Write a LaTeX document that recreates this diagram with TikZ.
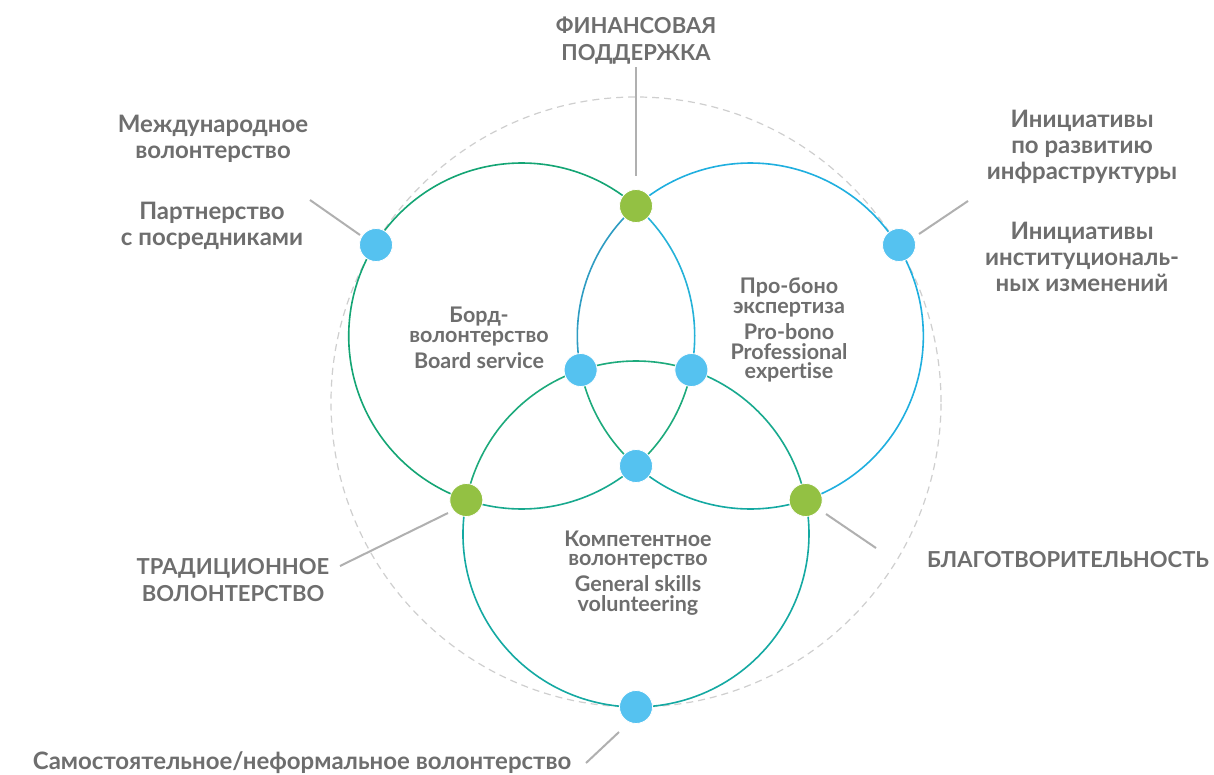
\documentclass[tikz,border=0pt]{standalone}
\usepackage{fontspec}
\setmainfont{Lato}[Ligatures=NoCommon]
\definecolor{cgreen}{HTML}{14A574}
\definecolor{cblue}{HTML}{1FAFDF}
\definecolor{cteal}{HTML}{14A9A2}
\definecolor{ccyan}{HTML}{25B2D8}
\definecolor{cdblue}{HTML}{2E9CC2}
\definecolor{ctri}{HTML}{1DAA7C}
\definecolor{ctg}{HTML}{18A98E}
\definecolor{dotblue}{HTML}{55C2F0}
\definecolor{dotgreen}{HTML}{93C143}
\definecolor{txt}{HTML}{6E6E6E}
\definecolor{lead}{HTML}{B0B0B0}
\definecolor{dashc}{HTML}{CFCFCF}
\begin{document}
\begin{tikzpicture}[x=1pt,y=1pt,
  circ/.style={line width=1.6pt},
  bdot/.style={circle,fill=dotblue,draw=white,line width=0.8pt,minimum size=33pt,inner sep=0pt},
  gdot/.style={circle,fill=dotgreen,draw=white,line width=0.8pt,minimum size=33pt,inner sep=0pt},
  leader/.style={draw=lead,line width=2pt},
  caps/.style={text=txt,font=\fontsize{22}{27}\selectfont\bfseries,align=center,inner sep=0pt},
  lbl/.style={text=txt,font=\fontsize{24}{26}\selectfont\bfseries,align=center,inner sep=0pt},
  ilbl/.style={text=txt,font=\fontsize{21.5}{19.5}\selectfont\bfseries,align=center,inner sep=0pt}]
\fill[white] (0,0) rectangle (1214,-774);
\useasboundingbox (0,0) rectangle (1214,-774);
\coordinate (O) at (636,-402);
\coordinate (Lc) at (521.7,-336);
\coordinate (Rc) at (750.3,-336);
\coordinate (Bc) at (636,-534);
% dashed outer circle
\draw[dashc,line width=1.2pt,dash pattern=on 7pt off 5pt] (O) circle[radius=305];
% left circle
\draw[circ,cgreen] (Lc) ++(48.7:173) arc[start angle=48.7,end angle=251.3,radius=173];
\draw[circ,ccyan] (Lc) ++(-11.3:173) arc[start angle=-11.3,end angle=48.7,radius=173];
\draw[circ,ctri] (Lc) ++(-48.7:173) arc[start angle=-48.7,end angle=-11.3,radius=173];
\draw[circ,ctg] (Lc) ++(-108.7:173) arc[start angle=-108.7,end angle=-48.7,radius=173];
% right circle
\draw[circ,cblue] (Rc) ++(-71.3:173) arc[start angle=-71.3,end angle=131.3,radius=173];
\draw[circ,cdblue] (Rc) ++(131.3:173) arc[start angle=131.3,end angle=191.3,radius=173];
\draw[circ,ctri] (Rc) ++(191.3:173) arc[start angle=191.3,end angle=228.7,radius=173];
\draw[circ,cteal] (Rc) ++(228.7:173) arc[start angle=228.7,end angle=288.7,radius=173];
% bottom circle
\draw[circ,ctri] (Bc) ++(71.3:173) arc[start angle=71.3,end angle=108.7,radius=173];
\draw[circ,ctg] (Bc) ++(11.3:173) arc[start angle=11.3,end angle=71.3,radius=173];
\draw[circ,ctri] (Bc) ++(108.7:173) arc[start angle=108.7,end angle=168.7,radius=173];
\draw[circ,cteal] (Bc) ++(168.7:173) arc[start angle=168.7,end angle=371.3,radius=173];
% leader line end points
\coordinate (t1) at (636,-67);   \coordinate (t2) at (636,-176);
\coordinate (tl1) at (310,-200); \coordinate (tl2) at (360,-235);
\coordinate (tr1) at (968,-201); \coordinate (tr2) at (919,-234);
\coordinate (bl1) at (340,-566); \coordinate (bl2) at (448,-513);
\coordinate (br1) at (876,-548); \coordinate (br2) at (826,-514);
\coordinate (b1) at (586,-763);  \coordinate (b2) at (619,-732);
\draw[leader] (t1) -- (t2);
\draw[leader] (tl1) -- (tl2);
\draw[leader] (tr1) -- (tr2);
\draw[leader] (bl1) -- (bl2);
\draw[leader] (br1) -- (br2);
\draw[leader] (b1) -- (b2);
% dots
\node[gdot] (dT) at (636,-206) {};
\node[gdot] (dLB) at (466.3,-500) {};
\node[gdot] (dRB) at (805.7,-500) {};
\node[bdot] (dIL) at (580.6,-370) {};
\node[bdot] (dIR) at (691.4,-370) {};
\node[bdot] (dIB) at (636,-466) {};
\node[bdot] (dTL) at (376,-245) {};
\node[bdot] (dTR) at (899,-245) {};
\node[bdot] (dB) at (636,-707) {};
% outer labels
\node[caps] (fin) at (636,-41) {ФИНАНСОВАЯ\\ПОДДЕРЖКА};
\node[lbl] (mezh) at (213,-139) {Международное\\волонтерство};
\node[lbl] (part) at (212,-226) {Партнерство\\с посредниками};
\node[lbl] (inf) at (1082,-147) {Инициативы\\по развитию\\инфраструктуры};
\node[lbl] (inst) at (1082,-257) {Инициативы\\институциональ-\\ных изменений};
\node[caps] (trad) at (233,-580) {ТРАДИЦИОННОЕ\\ВОЛОНТЕРСТВО};
\node[caps] (blag) at (1068,-560) {БЛАГОТВОРИТЕЛЬНОСТЬ};
\node[lbl] (sam) at (302,-763) {Самостоятельное/неформальное волонтерство};
% inner labels
\node[ilbl] (bord) at (479,-338) {Борд-\\волонтерство\\[5.5pt]Board service};
\node[ilbl] (pro) at (789,-330) {Про-боно\\экспертиза\\[6pt]Pro-bono\\Professional\\expertise};
\node[ilbl] (komp) at (638,-573) {Компетентное\\волонтерство\\[5.5pt]General skills\\volunteering};
\end{tikzpicture}
\end{document}
